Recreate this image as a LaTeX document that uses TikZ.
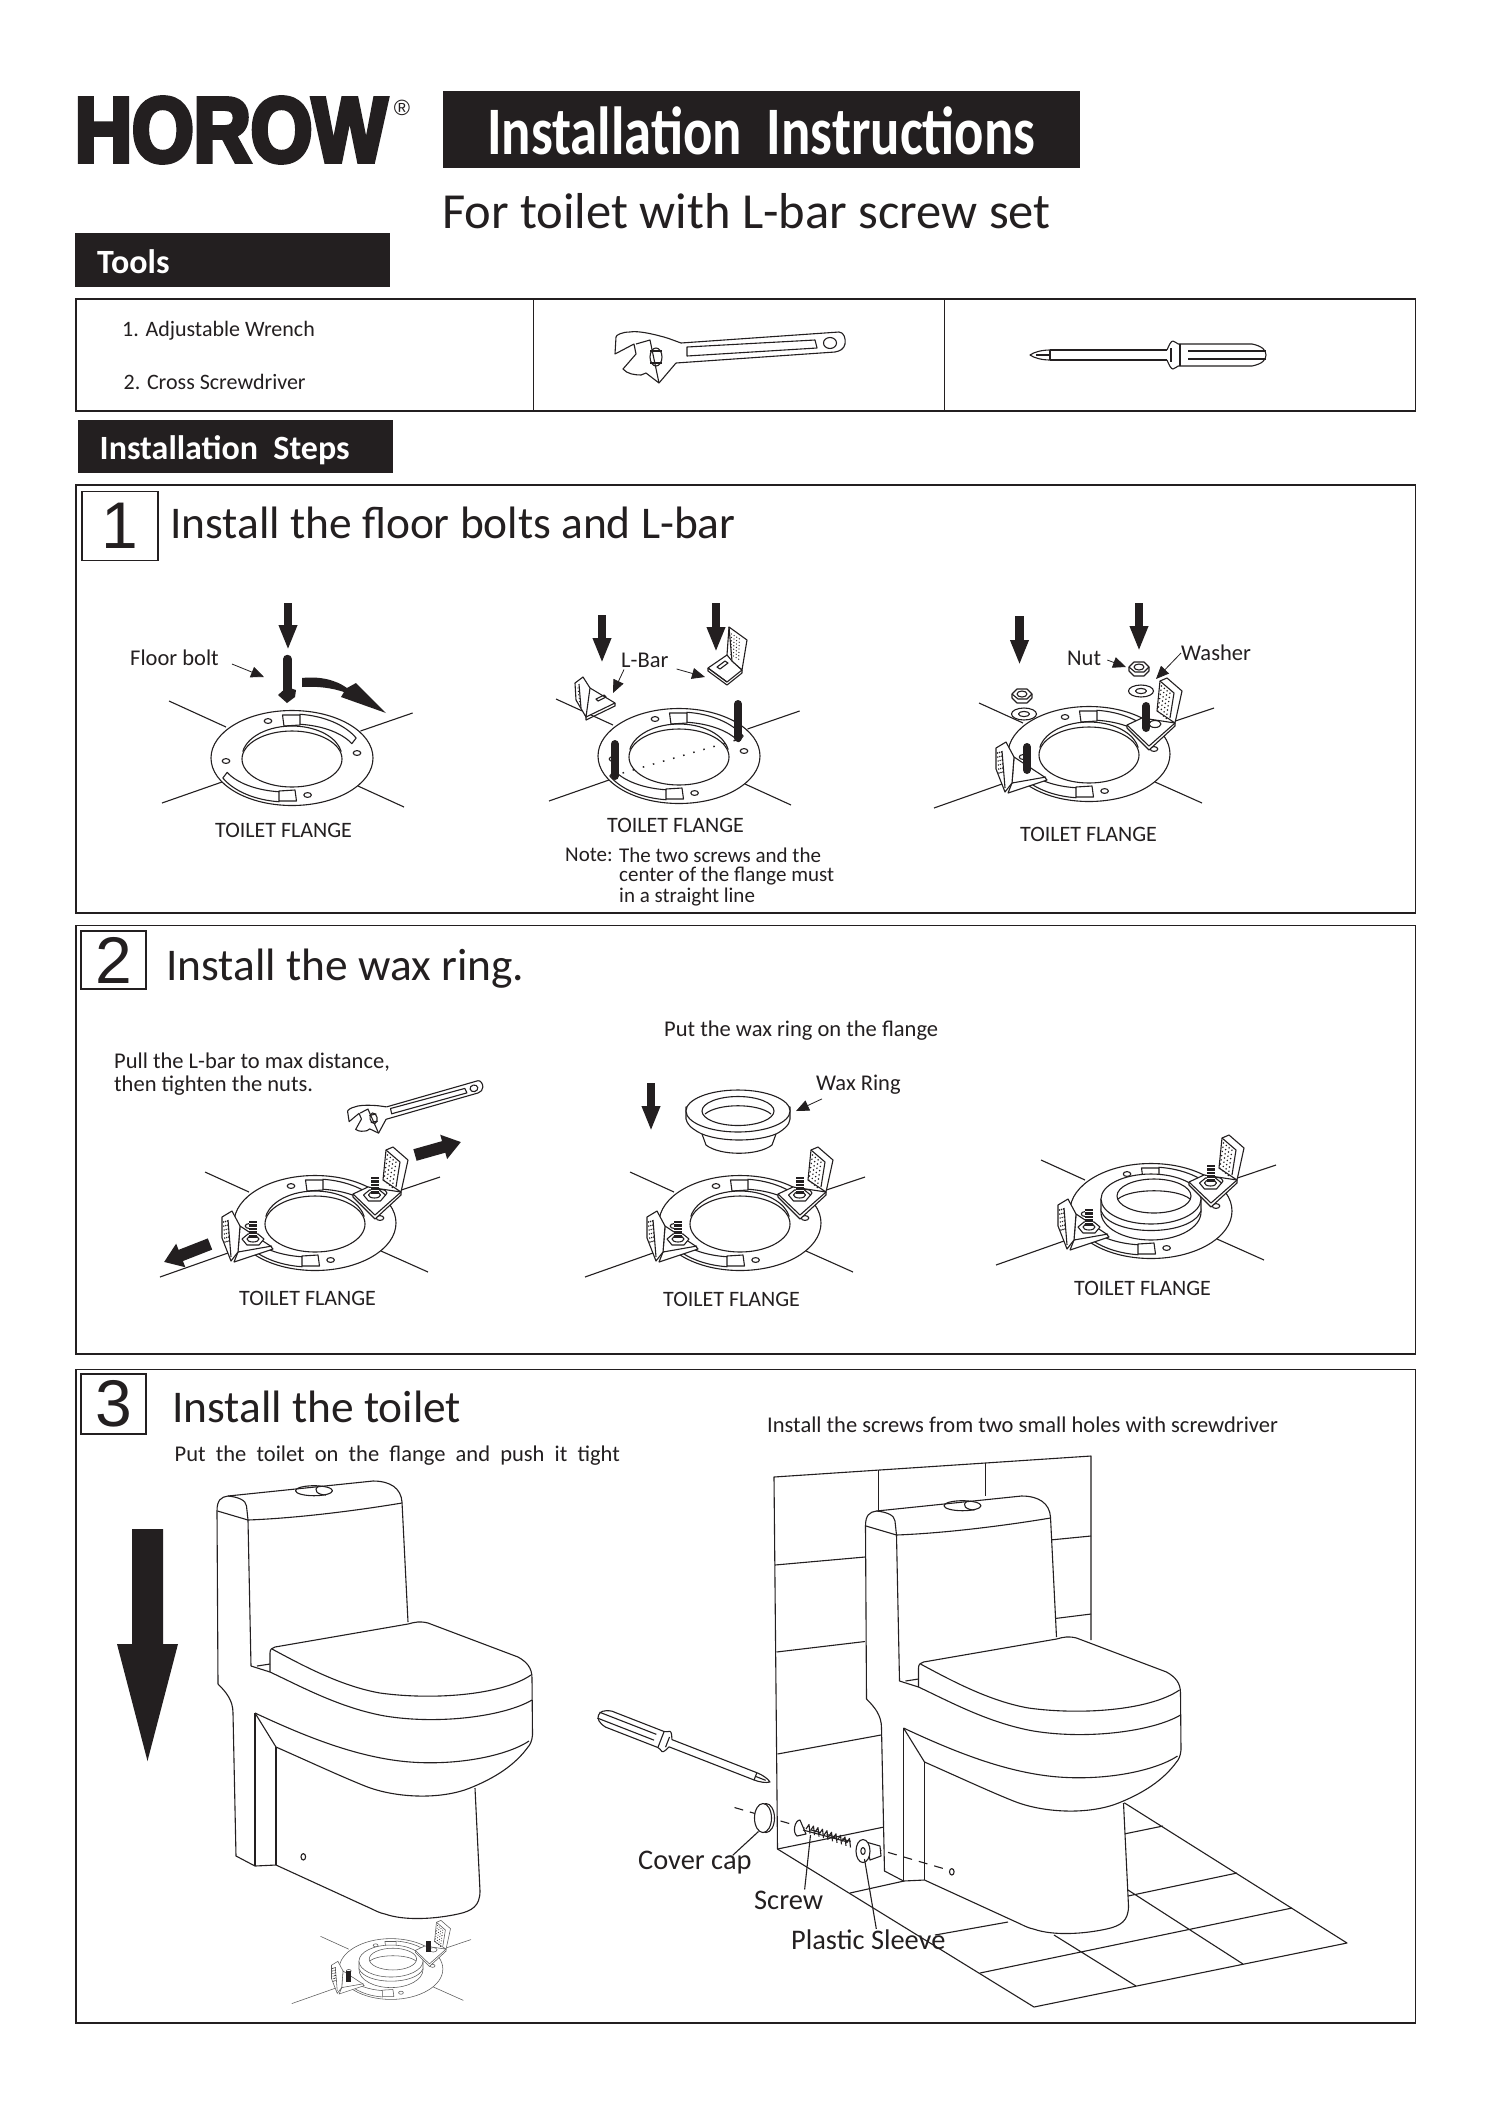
\documentclass[tikz,border=0pt]{standalone}
\usepackage{fontspec}
\setmainfont{Carlito}
\newfontfamily\logofont[BoldFeatures={FakeBold=5,FakeStretch=.86}]{Liberation Sans}
\newfontfamily\digitfont{Liberation Sans}
\usetikzlibrary{arrows.meta}
\definecolor{inkblack}{HTML}{231F20}
\newcommand{\fs}[1]{\fontsize{#1}{#1}\selectfont}
\tikzset{
  ln/.style={line width=1.1pt,inkblack,line join=round},
  lnw/.style={ln,fill=white},
  frm/.style={line width=1.5pt,inkblack},
  lbl/.style={inner sep=0pt,anchor=west,text=inkblack},
  small/.style={lbl,font=\fs{22.5}},
  notetxt/.style={lbl,font=\fs{21}},
  flangelbl/.style={lbl,font=\fs{22}},
  head/.style={lbl,font=\fs{45.4}},
  numbox/.style={draw=inkblack,line width=1.2pt,fill=white,inner sep=0pt,font=\digitfont\fs{66},text=inkblack},
  heavy/.style={line width=8.5pt,inkblack,-{Triangle[length=25pt,width=17pt]}},
  wedge/.style={line width=12pt,inkblack,-{Triangle[length=18pt,width=24pt]}},
  lead/.style={line width=.8pt,inkblack,-{Triangle[length=13pt,width=11pt]}},
  stud/.style={line width=8pt,inkblack,line cap=round},
  plainlegs/.pic={
    \draw[ln] (-66,-31) -- (-123,-57) (68.5,-27) -- (120.6,-45) (-70,24) -- (-130,45) (66,28) -- (112,49);
  },
  barlegs/.pic={
    \draw[ln] (-66,-31) -- (-110,-51) (68.5,-27) -- (125,-46) (-70,24) -- (-155,54) (66,28) -- (113,49);
  },
  flange/.pic={
    \filldraw[lnw] (0,0) ellipse [x radius=81,y radius=47.5];
    \foreach \a/\dx in {0/0,180/-5}{
      \begin{scope}[shift={(\dx,0)},rotate=\a]
        \draw[ln] (-84:72 and 44) arc[start angle=-84,end angle=-27,x radius=72,y radius=44] -- (-25:66 and 34) arc[start angle=-25,end angle=-83,x radius=66,y radius=34];
        \filldraw[lnw] (-9.5,-43) -- (8,-43) -- (8,-33) -- (-8,-32) -- cycle;
      \end{scope}
    }
    \draw[ln] (-170:50 and 31) ++(0,-1) arc[start angle=-170,end angle=-10,x radius=50,y radius=31];
    \filldraw[lnw] (0,1) ellipse [x radius=50,y radius=28];
    \foreach \hx/\hy in {-24/-37,65/-5,-66/3,15.6/37}
      \draw[ln] (\hx,\hy) ellipse [x radius=3.8,y radius=2.4];
  },
  lbars/.pic={
    % right one
    \filldraw[lnw] (38,-29) -- (53,-36) -- (86,-31) -- (86,-28) -- (60,-4) -- (38,-26) -- cycle;
    \draw[ln] (38,-29) -- (60,-8) -- (86,-31);
    \draw[ln] (66,-30) ellipse [x radius=6,y radius=3.5];
    \filldraw[lnw] (71,-73) -- (78,-76) -- (93,-63) -- (86,-31) -- (68,-43) -- cycle;
    \draw[ln] (71,-73) -- (85,-61) -- (81,-36);
    \foreach \u in {0,...,3}
      \foreach \v in {0,...,6}
        \fill[inkblack] ({72.5+\u*2.8-\v*.6},{-68+\u*2.4+\v*4.2}) circle (.85);
    % left one
    \filldraw[lnw] (-75,3) -- (-44.5,23) -- (-42,26) -- (-81,39) -- (-77,29) -- cycle;
    \draw[ln] (-77,29) -- (-43,23);
    \filldraw[lnw] (-93,-6) -- (-83,-12) -- (-75,3) -- (-77,29) -- (-84,38) -- (-93,15) -- cycle;
    \draw[ln] (-87,-3) -- (-84,34);
    \foreach \u in {0,1,2}
      \foreach \v in {0,...,5}
        \fill[inkblack] ({-91.5+\u*2+\v*.3},{-1+\u*-.5+\v*4}) circle (.8);
  },
  barestuds/.pic={
    \draw[stud] (57.4,-48) -- (57.4,-26);
    \draw[stud] (-62,-7) -- (-62,16);
  },
  nutstuds/.pic={
    \foreach \nx/\ny/\sy in {59.5/-28/-46,-62/16/-2}{
      \filldraw[lnw] (\nx-11,\ny) -- (\nx-5,\ny-5) -- (\nx+5,\ny-5) -- (\nx+11,\ny) -- (\nx+6,\ny+6) -- (\nx-6,\ny+6) -- cycle;
      \draw[ln] (\nx,\ny) ellipse [x radius=6,y radius=3];
      \draw[line width=8pt,inkblack] (\nx,\sy) -- (\nx,\ny);
      \draw[line width=8pt,white,dash pattern=on .7pt off 3pt] (\nx,\sy+2) -- (\nx,\ny);
    }
  },
  hexnut/.pic={
    \filldraw[lnw] (-10,-2) -- (-5,-7) -- (5,-7) -- (10,-2) -- (10,2) -- (5,7) -- (-5,7) -- (-10,2) -- cycle;
    \draw[ln] (-10,-2) -- (-4,3) -- (5,3) -- (10,-2);
    \draw[ln] (0,-2) ellipse [x radius=5,y radius=3];
  },
  washer/.pic={
    \draw[ln] (0,0) ellipse [x radius=12.5,y radius=6];
    \draw[ln] (0,0) ellipse [x radius=5.5,y radius=2.6];
  },
  waxring/.pic={
    \filldraw[lnw] (-52,-4) -- (-52,8) .. controls (-50,16) and (-42,20) .. (-36,23) -- (-32,34) .. controls (-18,45) and (20,45) .. (34,34) -- (38,23) .. controls (44,20) and (52,14) .. (52,8) -- (52,-4) -- cycle;
    \draw[ln] (-36,23) .. controls (-16,31) and (18,31) .. (38,23);
    \filldraw[lnw] (0,0) ellipse [x radius=52,y radius=21];
    \draw[ln] (0,0) ellipse [x radius=36,y radius=14.5];
    \draw[ln] (-33,3) .. controls (-20,-8) and (20,-8) .. (33,3);
  },
  seatedring/.pic={
    \filldraw[lnw] (-50,0) -- (-50,12) .. controls (-40,38) and (40,38) .. (50,12) -- (50,0) -- cycle;
    \filldraw[lnw] (0,0) ellipse [x radius=50,y radius=25];
    \draw[ln] (3,-3) ellipse [x radius=37,y radius=17];
    \draw[ln] (-33,0) .. controls (-20,-11) and (26,-11) .. (39,0);
  },
  screwdriver/.pic={
    \draw[ln] (20,-5) .. controls (12,-5) and (4,-3) .. (0,0) .. controls (4,3) and (12,5) .. (20,5);
    \draw[ln] (6,0) -- (20,0) (20,-5) -- (20,5);
    \draw[ln] (20,-5) -- (137,-5) (20,5) -- (137,5);
    \draw[ln] (137,-5) .. controls (139,-10) and (141,-14) .. (143,-14) .. controls (146,-14) and (147,-10) .. (150,-11);
    \draw[ln] (137,5) .. controls (139,10) and (141,14) .. (143,14) .. controls (146,14) and (147,10) .. (150,11);
    \draw[ln] (141,-7) -- (141,7) (150,-11) -- (150,11);
    \draw[ln] (150,-11) -- (222,-11) .. controls (232,-9) and (236,-5) .. (236,0) .. controls (236,5) and (232,9) .. (222,11) -- (150,11);
    \draw[ln] (158,-4) -- (236,-4) (158,4) -- (236,4);
  },
  wrench/.pic={
    \draw[ln] (-49,-14) -- (109,-25) .. controls (114,-25) and (116,-18) .. (115,-13) .. controls (114,-8) and (110,-6) .. (105,-5) -- (-54,6);
    \draw[ln] (-43,-10) -- (85,-17) -- (87,-9) -- (-43,-1) -- cycle;
    \draw[ln] (100,-14) ellipse [x radius=6.5,y radius=5.5];
    \draw[ln] (-49,-14) .. controls (-60,-18) and (-62,-19) .. (-70,-21) .. controls (-85,-25) and (-95,-26) .. (-100,-25) .. controls (-108,-25) and (-114,-22) .. (-114,-20) -- (-115,-3) -- (-96,-13) -- (-94,-3) -- (-107,12) .. controls (-103,17) and (-95,18) .. (-89,18) -- (-84,16) -- (-71,26) -- (-54,6);
    \draw[ln] (-94,-13) -- (-80,-17) -- (-71,26);
    \draw[ln] (-74,0) ellipse [x radius=6,y radius=9];
    \draw[ln] (-80,-6) -- (-68,-6) (-80,6) -- (-68,6);
  },
  toilet/.pic={
    \fill[white] (217,1512) -- (219,1499) -- (228,1496) -- (373,1481) -- (393,1484) -- (402,1499) -- (408,1622) -- (425,1622) -- (520,1657) -- (532,1675) -- (532,1738) -- (528,1747) -- (493,1777) -- (475,1788) -- (480,1891) -- (477,1907) -- (440,1918) -- (400,1918) -- (377,1911) -- (276,1865) -- (255,1866) -- (236,1856) -- (233,1713) -- (228,1695) -- (218,1684) -- cycle;
    % cistern
    \draw[ln] (218,1684) -- (217,1511) .. controls (217,1500) and (221,1497) .. (228,1496) -- (373,1481) .. controls (390,1481) and (401,1488) .. (402,1502) -- (408,1622);
    \draw[ln] (217.5,1511) -- (248,1520) .. controls (300,1518) and (360,1510) .. (402,1503);
    \draw[ln] (248,1520) -- (246.5,1506) .. controls (246,1500) and (238,1497) .. (228,1496);
    \draw[ln] (248,1520) -- (251,1666);
    \draw[ln] (314,1490.7) ellipse [x radius=18.5,y radius=5];
    \draw[ln] (319,1486) .. controls (312,1490) and (318,1495) .. (326,1495);
    % back column
    \draw[ln] (218,1684) .. controls (226,1692) and (233,1700) .. (233,1713) -- (236,1856) -- (255,1866) -- (276,1865);
    \draw[ln] (255,1713) -- (255,1866);
    \draw[ln] (276,1747) -- (276,1865);
    \draw[ln] (255,1713) -- (276,1747);
    \draw[ln] (257,1666) -- (270,1664);
    % lid
    \draw[ln] (270,1672) -- (270,1653) .. controls (270,1649) and (272,1648) .. (275,1647) -- (408,1624) .. controls (415,1622) and (420,1621) .. (428,1623) -- (518,1657) .. controls (527,1662) and (532,1668) .. (532,1678) -- (532.5,1735) .. controls (532,1741) and (530,1745) .. (528,1747);
    \draw[ln] (272,1649) .. controls (300,1664) and (340,1686) .. (380,1693) .. controls (430,1700) and (500,1696) .. (531,1675);
    \draw[ln] (251,1666) -- (270,1672) .. controls (300,1686) and (340,1708) .. (385,1716) .. controls (440,1725) and (505,1716) .. (532,1700);
    \draw[ln] (255,1713) .. controls (300,1734) and (350,1755) .. (400,1761) .. controls (450,1767) and (505,1757) .. (529,1741);
    % bowl and foot
    \draw[ln] (276,1747) .. controls (310,1762) and (340,1776) .. (365,1786) .. controls (395,1798) and (440,1800) .. (470,1788) .. controls (495,1778) and (515,1765) .. (528,1747);
    \draw[ln] (475,1788) -- (480,1891) .. controls (480,1906) and (472,1911) .. (458,1914) .. controls (435,1919) and (405,1921) .. (385,1914) .. controls (380,1913) and (376,1911) .. (372,1909) -- (276,1865);
    \draw[ln] (303.3,1856.8) ellipse [x radius=2.3,y radius=3.2];
  }
}
\begin{document}
\begin{tikzpicture}[x=1pt,y=1pt,yscale=-1,every pic/.style={yscale=-1}]
\useasboundingbox (0,0) rectangle (1500,2121);
\fill[white] (0,0) rectangle (1500,2121);

% header
\node[lbl,anchor=center,font=\logofont\bfseries\fs{92}] (logo) at (231,130) {HOROW};
\node[lbl,anchor=center,font=\logofont\fs{22}] (regmark) at (402,108) {®};
\fill[inkblack] (443,91) rectangle (1080,168);
\node[lbl,text=white,font=\bfseries\fs{68},xscale=.805] (title) at (487,131) {Installation\ \ Instructions};
\node[lbl,font=\fs{50.5}] (subtitle) at (442,211) {For toilet with L-bar screw set};
\fill[inkblack] (75,233) rectangle (390,287);
\node[lbl,text=white,font=\bfseries\fs{34}] (toolshd) at (97,262) {Tools};

% tools table
\draw[frm] (76,299) rectangle (1415.5,411) (533.5,299) -- (533.5,411) (944.5,299) -- (944.5,411);
\node[small,font=\fs{22}] (tool1) at (122,331) {1. Adjustable Wrench};
\node[small,font=\fs{22}] (tool2) at (123.5,381.5) {2. Cross Screwdriver};
\pic at (730,357) {wrench};
\pic at (1030,355) {screwdriver};

\fill[inkblack] (78,420) rectangle (393,473);
\node[lbl,text=white,font=\bfseries\fs{34}] (stepshd) at (99.5,450) {Installation\ \ Steps};

% step 1
\draw[frm] (76,485) rectangle (1415.5,913);
\node[numbox,minimum width=76pt,minimum height=69pt] (num1) at (120,526) {1};
\node[head] (head1) at (170,523) {Install the floor bolts and L-bar};

\coordinate (bolttop) at (288,603);
\coordinate (boltend) at (288,650);
\draw[heavy] (bolttop) -- (boltend);
\draw[stud,line width=8.5pt] (287.3,659) -- (287.3,695);
\fill[inkblack] (278,695) -- (287,687) -- (296,690) -- (295,697) -- (287,703) -- cycle;
\fill[inkblack] (302,678) .. controls (320,676) and (336,680) .. (347,688) -- (356,683) -- (386,713) -- (341,697) -- (344,692) .. controls (332,688) and (318,686) .. (302,687) -- cycle;
\node[small] (boltlbl) at (130,658) {Floor bolt};
\coordinate (boltpt) at (264,677);
\draw[lead] (boltlbl.east) ++(13,6) -- (boltpt);
\pic at (292,758) {plainlegs};
\pic at (292,758) {flange};
\node[flangelbl] (flange1) at (215,830) {TOILET FLANGE};

\coordinate (arrowa) at (602,615);
\coordinate (arrowb) at (602,663);
\draw[heavy] (arrowa) -- (arrowb);
\coordinate (arrowc) at (716,603);
\coordinate (arrowd) at (716,652);
\draw[heavy] (arrowc) -- (arrowd);
\pic at (679,756) {plainlegs};
\pic at (679,756) {flange};
\draw[stud] (614.7,744) -- (614.7,776);
\draw[stud] (738,704) -- (738,738);
\coordinate (dota) at (622.6,773);
\coordinate (dotb) at (739.6,739);
\draw[inkblack,line width=1.5pt,dash pattern=on 1.5pt off 9pt] (dota) -- (dotb);
% loose bars
\filldraw[lnw] (708,668) -- (727,655) -- (732,661) -- (742,670) -- (727,682) -- cycle;
\draw[ln] (708,668) -- (708,671) -- (727,685) -- (742,673) -- (742,670) (708,668) -- (727,682);
\draw[ln] (717,667) -- (725,661) -- (728,663) -- (720,669) -- cycle;
\filldraw[lnw] (729,627) -- (747,640) -- (742,670) -- (732,661) -- cycle;
\draw[ln] (729,627) -- (727,655);
\foreach \u in {0,...,3}
  \foreach \v in {0,...,6}
    \fill[inkblack] ({731.5+\u*2.6-\v*.1},{634+\u*1.6+\v*3.4}) circle (.7);
\filldraw[lnw] (590,688) -- (615,703) -- (586,717) -- (580,700) -- cycle;
\draw[ln] (615,703) -- (615,706) -- (586,720) -- (586,717);
\draw[ln] (596,699) -- (604,695) -- (606,697) -- (598,701) -- cycle;
\filldraw[lnw] (575,683) -- (583,677) -- (590,688) -- (586,717) -- (576,700) -- cycle;
\draw[ln] (579,684) -- (581,708);
\foreach \v in {0,...,4}
  \fill[inkblack] ({578+\v*.4},{688+\v*3.4}) circle (.7);
\node[small] (lbarlbl) at (621,660) {L-Bar};
\coordinate (lbarpta) at (613,693);
\coordinate (lbarptb) at (705,677);
\draw[lead] (lbarlbl.south west) ++(3,2) -- (lbarpta);
\draw[lead] (lbarlbl.east) ++(8,9) -- (lbarptb);
\node[flangelbl] (flange2) at (607,825) {TOILET FLANGE};
\node[notetxt] (notea) at (565,855) {Note:};
\node[notetxt] (noteb) at (619,855) {The two screws and the};
\node[notetxt] (notec) at (619,876) {center of the flange must};
\node[notetxt] (noted) at (619,897) {in a straight line};

\coordinate (arrowe) at (1019.5,616);
\coordinate (arrowf) at (1019.5,665);
\draw[heavy] (arrowe) -- (arrowf);
\coordinate (arrowg) at (1139,603);
\coordinate (arrowh) at (1139,651);
\draw[heavy] (arrowg) -- (arrowh);
\pic at (1089,754) {barlegs};
\pic at (1089,754) {flange};
\pic at (1089,754) {lbars};
\pic at (1089,754) {barestuds};
\pic at (1139,669) {hexnut};
\pic at (1022,696) {hexnut};
\pic at (1141,691) {washer};
\pic at (1024,714) {washer};
\node[small] (nutlbl) at (1067,658) {Nut};
\node[small] (washerlbl) at (1181,653) {Washer};
\coordinate (nutpt) at (1126,667);
\coordinate (washerpt) at (1156,679);
\draw[lead] (nutlbl.east) ++(6,2) -- (nutpt);
\draw[lead] (washerlbl.west) -- (washerpt);
\node[flangelbl] (flange3) at (1020,834) {TOILET FLANGE};

% step 2
\draw[frm] (76,925.5) rectangle (1415.5,1354);
\node[numbox,minimum width=65pt,minimum height=58pt] (num2) at (113.5,960) {2};
\node[head] (head2) at (166,969) {Install the wax ring.};
\node[small] (pulla) at (114,1062) {Pull the L-bar to max distance,};
\node[small] (pullb) at (114,1086) {then tighten the nuts.};
\pic at (315,1223) {barlegs};
\pic at (315,1223) {flange};
\pic at (315,1223) {lbars};
\pic at (315,1223) {nutstuds};
\pic[scale=.6,rotate=12] at (417,1109) {wrench};
\coordinate (pullra) at (415,1155);
\coordinate (pullrb) at (461,1142);
\draw[wedge] (pullra) -- (pullrb);
\coordinate (pullla) at (210,1244);
\coordinate (pulllb) at (164,1262);
\draw[wedge] (pullla) -- (pulllb);
\node[flangelbl] (flange4) at (239,1298) {TOILET FLANGE};

\node[small] (puta) at (664,1031) {Put the wax ring on the flange};
\coordinate (arrowi) at (651,1083);
\coordinate (arrowj) at (651,1131);
\draw[heavy] (arrowi) -- (arrowj);
\pic at (740,1223) {barlegs};
\pic at (740,1223) {flange};
\pic at (740,1223) {lbars};
\pic at (740,1223) {nutstuds};
\pic at (738,1111) {waxring};
\node[small] (waxlbl) at (816,1085) {Wax Ring};
\coordinate (waxpt) at (796,1111);
\draw[lead] (waxlbl.south west) ++(6,4) -- (waxpt);
\node[flangelbl] (flange5) at (663,1299) {TOILET FLANGE};

\pic at (1151,1211) {barlegs};
\pic at (1151,1211) {flange};
\pic at (1151,1199) {seatedring};
\pic at (1151,1211) {lbars};
\pic at (1151,1211) {nutstuds};
\node[flangelbl] (flange6) at (1074,1288) {TOILET FLANGE};

% step 3
\draw[frm] (76,1369.5) rectangle (1415.5,2023);
\node[numbox,minimum width=65pt,minimum height=60pt] (num3) at (113.5,1404) {3};
\node[head] (head3) at (172,1407) {Install the toilet};
\node[small] (pushlbl) at (174.5,1456) {Put\ \ the\ \ toilet\ \ on\ \ the\ \ flange\ \ and\ \ push\ \ it\ \ tight};
\node[small] (screwslbl) at (767,1425) {Install the screws from two small holes with screwdriver};

\fill[inkblack] (132,1529) -- (163,1529) -- (163,1644) -- (178,1644) -- (147.5,1761) -- (117,1644) -- (132,1644) -- cycle;
\pic at (0,0) {toilet};
\begin{scope}[ln/.style={line width=.55pt,black!65}]
  \pic[scale=.64] at (391,1969) {barlegs};
  \pic[scale=.64] at (391,1969) {flange};
  \pic[scale=.64] at (391,1961) {seatedring};
  \pic[scale=.64] at (391,1969) {lbars};
  \draw[line width=5pt,inkblack] (428,1941) -- (428,1952) (348,1971) -- (348,1982);
\end{scope}

% wall and floor
\draw[ln] (777.5,1849) -- (774,1477) -- (1091,1456) -- (1091,1640);
\draw[ln] (777.5,1849) -- (884,1827);
\draw[ln] (775,1565) -- (865,1557) (1050,1540) -- (1091,1536) (776.5,1652) -- (865,1641.5) (1055,1618.5) -- (1091,1614) (777.5,1754) -- (881,1735);
\draw[ln] (878.5,1470) -- (878.5,1511) (985.5,1463) -- (985.5,1496);
\draw[ln] (777.5,1849) -- (1034,2007) -- (1347,1943) -- (1123,1802);
\draw[ln] (850,1893) -- (904,1881) (1124,1834) -- (1163,1826) (935,1935) -- (1008,1922) (1128,1896) -- (1237,1873) (980,1973) -- (1292,1908) (1054,1935) -- (1136,1986) (1128,1890) -- (1243,1964);
\pic at (648.5,15) {toilet};

% fixing parts
\pic[scale=.78,rotate=158.7] at (770,1782) {screwdriver};
\coordinate (axisa) at (734.5,1807.5);
\coordinate (axisb) at (945,1869);
\draw[ln,dash pattern=on 9pt off 7pt] (axisa) -- (axisb);
\filldraw[lnw] (766,1818) ellipse [x radius=8.5,y radius=14.5];
\filldraw[lnw] (763,1818) ellipse [x radius=8.5,y radius=14.5];
\filldraw[lnw] (800,1820) .. controls (795,1820) and (792,1832) .. (797,1836) -- (806,1834) -- cycle;
\foreach \i in {0,...,9}
  \draw[ln] ({806+\i*4.5},{1829+\i*1.55}) -- ++(3,-4.5) -- ++(1,9);
\draw[ln] (803,1830) -- (848,1842);
\filldraw[lnw] (866,1842) -- (880,1846) -- (881,1856) -- (870,1860) -- cycle;
\filldraw[lnw] (863,1851) ellipse [x radius=7,y radius=11.5];
\draw[ln] (863,1851) ellipse [x radius=2.2,y radius=3.5];
\node[lbl,font=\fs{28.4}] (capnlbl) at (638,1863) {Cover cap};
\node[lbl,font=\fs{28.4}] (screwlbl) at (754,1900) {Screw};
\node[lbl,font=\fs{28.4}] (sleevelbl) at (791,1940) {Plastic Sleeve};
\coordinate (cappt) at (758.5,1831.5);
\coordinate (screwpt) at (810.5,1835);
\coordinate (sleevept) at (864.5,1859);
\draw[ln] (capnlbl.north east) ++(-19,4) -- (cappt);
\draw[ln] (screwlbl.north) ++(16,-1) -- (screwpt);
\draw[ln] (sleevelbl.north) ++(8,-1) -- (sleevept);
\end{tikzpicture}
\end{document}
